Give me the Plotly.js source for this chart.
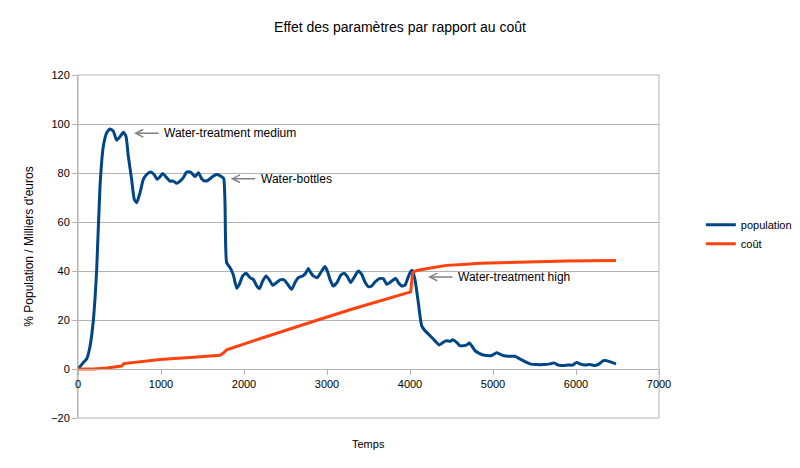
<!DOCTYPE html>
<html>
<head>
<meta charset="utf-8">
<script src="https://cdn.plot.ly/plotly-3.0.1.min.js"></script>
<style>html,body{margin:0;padding:0;background:#fff;}#chart{width:800px;height:468px;}</style>
</head>
<body>
<div id="chart"></div>
<script>
// Population curve (time, % population)
var popT = [0,64,105,145,185,225,265,305,345,385,425,466,506,546,578,606,646,678,707,747,787,827,876,916,956,988,1020,1068,1108,1149,1189,1229,1269,1309,1357,1410,1450,1490,1530,1570,1623,1671,1731,1755,1771,1791,1831,1871,1912,1944,1984,2024,2072,2112,2153,2185,2225,2265,2305,2346,2394,2434,2482,2526,2575,2615,2655,2707,2747,2775,2803,2835,2883,2936,2976,3004,3036,3076,3124,3165,3205,3245,3285,3325,3377,3417,3458,3498,3538,3578,3630,3678,3719,3759,3799,3831,3859,3899,3940,3968,4000,4025,4060,4100,4141,4181,4241,4301,4353,4402,4442,4482,4514,4562,4602,4643,4683,4715,4743,4783,4823,4883,4924,4984,5044,5084,5124,5185,5265,5325,5386,5446,5526,5606,5687,5735,5787,5847,5907,5960,6008,6048,6108,6169,6229,6281,6329,6370,6430,6482];
var popY = [0,2.6,4.2,9.3,20,40.5,74.6,90.9,96.4,98,97.1,93.4,94.8,96.6,95,86.9,77.4,69.3,67.9,71.9,77.4,79.4,80.4,79.4,77.4,78.5,79.8,78.1,76.7,76.7,75.8,76.7,78.1,80.4,80.4,78.5,80.1,77.7,76.7,77.1,78.6,79.4,78.5,77.8,67.9,43.4,41.4,38.5,33,34.6,38,39.1,37.3,36.6,33.9,32.8,35.9,38,36.4,34.2,35.3,36.4,36.4,34.6,32.5,35.3,37.3,38,39.3,41,39.3,38,37.3,40,41.8,40,36.6,33.9,35.5,38.3,39.1,37.7,35.3,37.3,40,38.7,35.5,33.6,33.9,35.5,36.9,36.9,34.6,35.3,36.4,36.9,35.3,33.9,34.2,36.6,39.3,40.3,36.5,27.1,17.6,15.6,13.6,11.5,9.8,10.9,11.5,11.3,11.9,10.9,9.5,9.5,9.8,10.6,9.5,7.5,6.6,5.7,5.5,5.5,6.6,6.1,5.5,5.2,5.2,4.1,3.0,2.1,1.8,1.8,2.1,2.5,1.6,1.4,1.6,1.6,2.7,2.1,1.6,1.8,1.4,2.1,3.4,3.4,2.7,2.1];

// Cost curve (time, thousands of euros)
var costT = [0,185,345,526,554,988,1390,1711,1751,1791,2112,2514,2916,3317,3719,4008,4032,4080,4281,4442,4683,4843,5084,5486,5887,6482];
var costY = [0,0,0.4,1.2,2.2,3.9,4.8,5.6,6.5,7.8,11.5,16,20.3,24.6,28.7,31.5,39.3,40.2,41.4,42.3,42.8,43.2,43.4,43.8,44.1,44.3];

var seriesNames = ['population', 'coût'];
var seriesColors = ['#004586', '#ff420e'];

var xTicks = [0,1000,2000,3000,4000,5000,6000,7000];
var yTicks = [-20,0,20,40,60,80,100,120];

// Annotations: arrow head position (time, value) and label
var noteLabels = ['Water-treatment medium', 'Water-bottles', 'Water-treatment high'];
var noteT = [675, 1840, 4217];
var noteV = [96.2, 77.7, 37.6];

var font = 'Liberation Sans, Arial, sans-serif';

var traces = [
  {x: popT, y: popY, name: seriesNames[0], type: 'scatter', mode: 'lines',
   line: {color: seriesColors[0], width: 3, shape: 'spline', smoothing: 0.5}},
  {x: costT, y: costY, name: seriesNames[1], type: 'scatter', mode: 'lines',
   line: {color: seriesColors[1], width: 3}}
];

var annotations = [];
for (var i = 0; i < noteLabels.length; i++) {
  annotations.push({x: noteT[i], y: noteV[i], xref: 'x', yref: 'y', text: '',
    showarrow: true, ax: 26, ay: 0, arrowhead: 5, arrowsize: 1, arrowwidth: 1.5,
    arrowcolor: '#808080'});
  annotations.push({x: noteT[i], y: noteV[i], xref: 'x', yref: 'y', text: noteLabels[i],
    showarrow: false, xanchor: 'left', yanchor: 'middle', xshift: 28,
    font: {family: font, size: 12, color: '#000'}});
}
annotations.push({x: 0.5, y: -0.052, xref: 'paper', yref: 'paper', text: 'Temps',
  showarrow: false, xanchor: 'center', yanchor: 'top',
  font: {family: font, size: 11, color: '#000'}});

var layout = {
  width: 800, height: 468,
  paper_bgcolor: '#fff', plot_bgcolor: '#fff',
  margin: {l: 78, r: 141, t: 75, b: 50, autoexpand: false},
  title: {text: 'Effet des paramètres par rapport au coût', x: 0.5, xref: 'container', xanchor: 'center',
    y: 0.942, yanchor: 'middle', font: {family: font, size: 14, color: '#000'}},
  font: {family: font, size: 11, color: '#000'},
  xaxis: {range: [0, 7000], tickvals: xTicks, anchor: 'free', position: 20/140,
    showgrid: false, zeroline: false, showline: true, linecolor: '#b3b3b3', linewidth: 1,
    ticks: 'outside', ticklen: 5, tickcolor: '#b3b3b3', tickfont: {family: font, size: 11, color: '#000'}},
  yaxis: {range: [-20, 120], tickvals: yTicks, showgrid: true, gridcolor: '#b3b3b3', gridwidth: 1,
    zeroline: false, showline: true, linecolor: '#b3b3b3', ticks: 'outside', ticklen: 5, tickcolor: '#b3b3b3',
    tickfont: {family: font, size: 11, color: '#000'},
    title: {text: '% Population / Milliers d\'euros', standoff: 14, font: {family: font, size: 12, color: '#000'}}},
  shapes: [{type: 'rect', xref: 'paper', yref: 'paper', x0: 0, x1: 1, y0: 0, y1: 1,
    line: {color: '#b3b3b3', width: 1}, layer: 'below'}],
  legend: {x: 1.072, xanchor: 'left', y: 0.536, yanchor: 'middle', bgcolor: 'rgba(0,0,0,0)',
    font: {family: font, size: 11, color: '#000'}, tracegroupgap: 0},
  showlegend: true,
  annotations: annotations
};

Plotly.newPlot('chart', traces, layout, {displayModeBar: false, staticPlot: true});
</script>
</body>
</html>
